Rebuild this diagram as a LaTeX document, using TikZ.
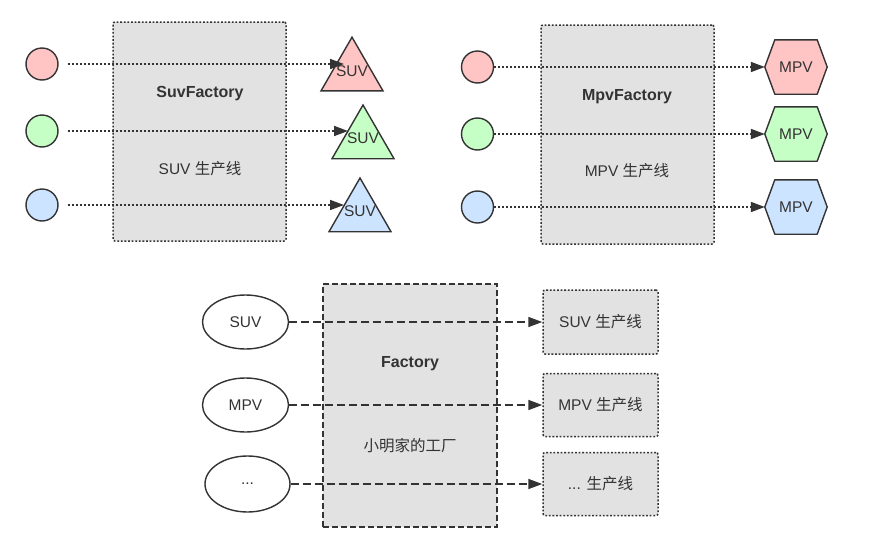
\documentclass[tikz,border=0pt]{standalone}
\usepackage{fontspec}
\setmainfont{Liberation Sans}
\newfontfamily\cjk{Noto Sans CJK SC}
\usetikzlibrary{arrows.meta,shapes.geometric,backgrounds}
\pgfdeclarelayer{bottom}
\pgfsetlayers{bottom,background,main}
\definecolor{pinkf}{HTML}{FFC4C4}
\definecolor{greenf}{HTML}{C6FFC6}
\definecolor{bluef}{HTML}{CCE4FF}
\definecolor{boxf}{HTML}{E2E2E2}
\definecolor{ink}{HTML}{333333}
\tikzset{
  every node/.style={font=\fontsize{15.5}{18}\selectfont, text=ink},
  circ/.style={circle, draw=ink, line width=1.4pt, minimum size=32pt, inner sep=0pt},
  tri/.style={regular polygon, regular polygon sides=3, draw=ink, line width=1.4pt, minimum size=71.6pt, inner sep=0pt},
  hexbox/.style={rectangle, minimum width=62pt, minimum height=54pt, inner sep=0pt},
  hexline/.style={draw=ink, line width=1.4pt, line join=round},
  fbox/.style={rectangle, rounded corners=2pt, draw=ink, fill=boxf, line width=1.5pt, dash pattern=on 1.8pt off 1.8pt},
  dbox/.style={rectangle, draw=ink, fill=boxf, line width=1.7pt, dash pattern=on 6pt off 3pt},
  sbox/.style={rectangle, rounded corners=2pt, draw=ink, fill=boxf, line width=1.5pt, dash pattern=on 1.8pt off 1.8pt, minimum width=115pt, minimum height=63pt, inner sep=0pt},
  ell/.style={ellipse, draw=ink, fill=white, line width=1.4pt, minimum width=86pt, minimum height=54pt, inner sep=0pt},
  bold/.style={font=\fontsize{16}{18}\selectfont\bfseries},
  dotconn/.style={draw=ink, line width=1.7pt, dash pattern=on 2pt off 2pt, -{Triangle[length=14pt,width=10pt]}},
  dashconn/.style={draw=ink, line width=1.7pt, dash pattern=on 8pt off 4pt, -{Triangle[length=14pt,width=10pt]}},
}
\begin{document}
\begin{tikzpicture}[x=1pt,y=-1pt]
\begin{pgfonlayer}{bottom}
\fill[white] (0,0) rectangle (895,552);
\end{pgfonlayer}
\useasboundingbox (0,0) rectangle (895,552);

% ---------- top-left: SUV factory ----------
\node[fbox, minimum width=173pt, minimum height=219pt] (sf) at (199.5,131.5) {};
\node[bold] (sft) at (200,94) {SuvFactory};
\node (sfs) at (200,169) {SUV {\cjk 生产线}};

\node[circ, fill=pinkf] (a1) at (42,64) {};
\node[circ, fill=greenf] (a2) at (42,131) {};
\node[circ, fill=bluef] (a3) at (42,205) {};

\node[tri, fill=pinkf] (t1) at (352,73) {};
\node at (352,71) {SUV};
\node[tri, fill=greenf] (t2) at (363,140.8) {};
\node at (363,138) {SUV};
\node[tri, fill=bluef] (t3) at (360,213.8) {};
\node at (360,211) {SUV};

\coordinate (e1) at (344,64);
\coordinate (e2) at (348,131);
\coordinate (e3) at (344,205);
\draw[dotconn, shorten <=9pt] (a1.east) -- (e1);
\draw[dotconn, shorten <=9pt] (a2.east) -- (e2);
\draw[dotconn, shorten <=9pt] (a3.east) -- (e3);

% ---------- top-right: MPV factory ----------
\node[fbox, minimum width=173pt, minimum height=219pt] (mf) at (627.5,134.5) {};
\node[bold] (mft) at (627,97) {MpvFactory};
\node (mfs) at (627,171) {MPV {\cjk 生产线}};

\node[circ, fill=pinkf] (b1) at (477.5,67) {};
\node[circ, fill=greenf] (b2) at (477.5,134) {};
\node[circ, fill=bluef] (b3) at (477.5,207) {};

\node[hexbox] (h1) at (796,67) {MPV};
\node[hexbox] (h2) at (796,134) {MPV};
\node[hexbox] (h3) at (796,207) {MPV};
\begin{pgfonlayer}{background}
\foreach \h/\c in {h1/pinkf,h2/greenf,h3/bluef}{
  \draw[hexline, fill=\c] (\h.west) -- ([xshift=10pt]\h.north west) -- ([xshift=-10pt]\h.north east)
     -- (\h.east) -- ([xshift=-10pt]\h.south east) -- ([xshift=10pt]\h.south west) -- cycle;
}
\end{pgfonlayer}

\draw[dotconn] (b1.east) -- (h1.west);
\draw[dotconn] (b2.east) -- (h2.west);
\draw[dotconn] (b3.east) -- (h3.west);

% ---------- bottom: Factory ----------
\node[dbox, minimum width=174pt, minimum height=243pt] (f) at (410,405.5) {};
\node[bold] (ft) at (410,364) {Factory};
\node (fs) at (410,446) {\cjk 小明家的工厂};

\node[ell] (s1) at (245.5,322) {SUV};
\node[ell] (s2) at (245.5,405) {MPV};
\node[ell, minimum width=85pt, minimum height=56pt] (s3) at (247.5,484) {...};

\node[sbox, minimum height=64pt] (p1) at (600.5,322) {SUV {\cjk 生产线}};
\node[sbox] (p2) at (600.5,405) {MPV {\cjk 生产线}};
\node[sbox] (p3) at (600.5,484) {... {\cjk 生产线}};

\draw[dashconn] (s1.east) -- (p1.west);
\draw[dashconn] (s2.east) -- (p2.west);
\draw[dashconn] (s3.east) -- (p3.west);
\end{tikzpicture}
\end{document}
